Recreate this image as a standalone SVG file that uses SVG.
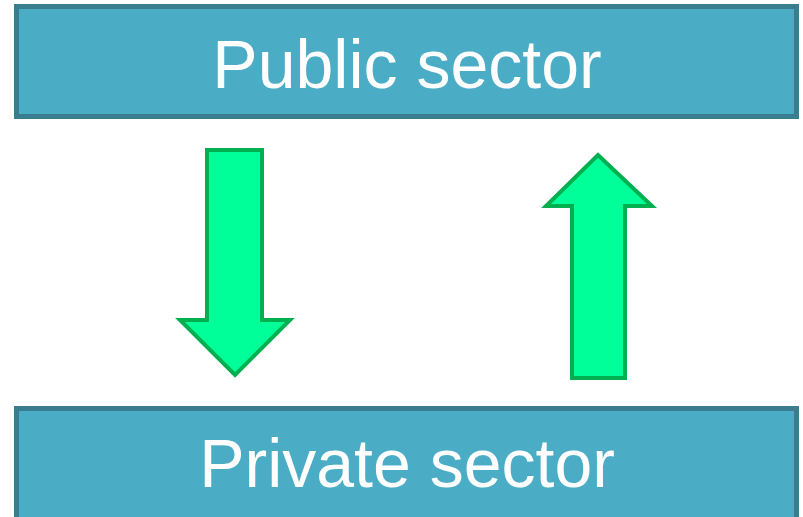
<svg xmlns="http://www.w3.org/2000/svg" width="803" height="517" viewBox="0 0 803 517">
<style>
.box{fill:#4aacc5;stroke:#3a7d8e;stroke-width:5}
.lbl{fill:#ffffff;font-family:"Liberation Sans",Arial,sans-serif;font-size:68px;text-anchor:middle}
.arrow{fill:#00ff99;stroke:#00b050;stroke-width:4;stroke-linejoin:miter}
</style>
<rect width="803" height="517" fill="#ffffff"/>
<g id="public">
<rect class="box" x="16.5" y="6.5" width="780" height="110"/>
<text class="lbl" x="407" y="88">Public sector</text>
</g>
<g id="private">
<rect class="box" x="16.5" y="408.5" width="780" height="130"/>
<text class="lbl" x="407" y="487">Private sector</text>
</g>
<g id="connectors">
<polygon class="arrow" points="207,150 262,150 262,320 290,320 235,375 180,320 207,320"/>
<polygon class="arrow" points="572,378 625,378 625,206 652,206 598,155 546,206 572,206"/>
</g>
</svg>
